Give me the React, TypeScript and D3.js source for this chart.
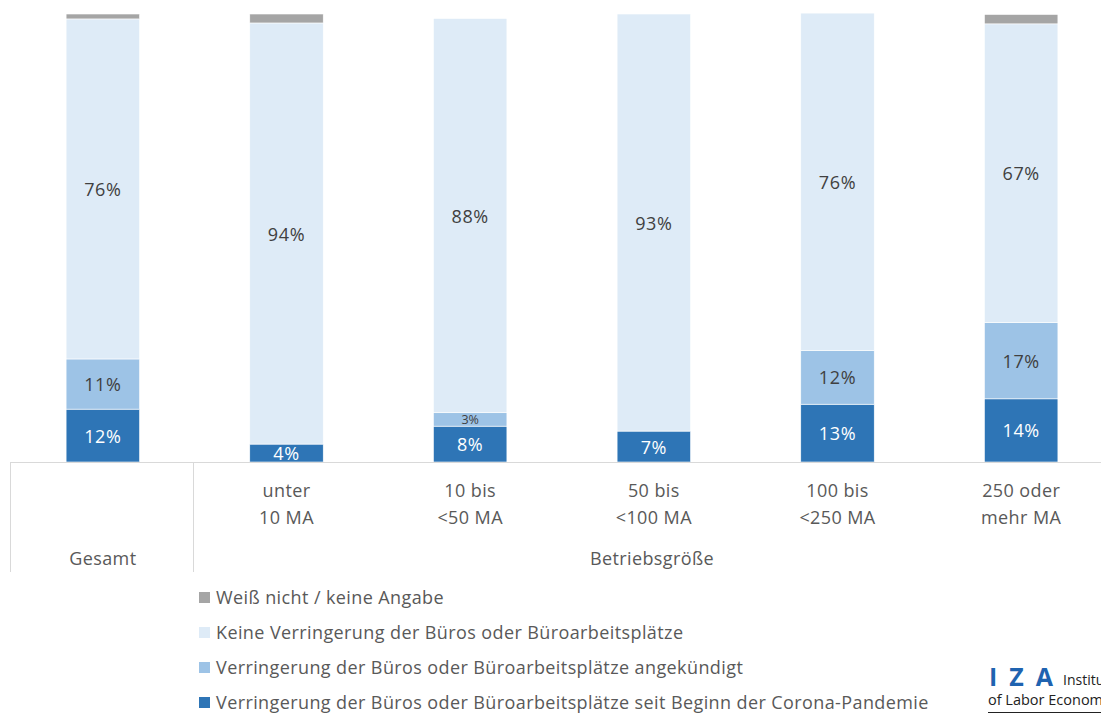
import React, { useEffect, useRef } from 'react';
import * as d3 from 'd3';

// groups on the x axis
const categories = ['Gesamt', 'unter 10 MA', '10 bis <50 MA', '50 bis <100 MA', '100 bis <250 MA', '250 oder mehr MA'];
const tickLines = [[''], ['unter', '10 MA'], ['10 bis', '<50 MA'], ['50 bis', '<100 MA'], ['100 bis', '<250 MA'], ['250 oder', 'mehr MA']];

// shares in percent, stacked from bottom to top
const seitBeginn = [11.8, 4, 8, 6.9, 12.9, 14.1];
const angekuendigt = [11.2, 0, 3, 0, 12, 17];
const keineVerringerung = [75.9, 94, 88, 93.1, 75.3, 66.7];
const weissNicht = [1.1, 2, 0, 0, 0, 2.1];

// printed labels
const seitBeginnLabels = ['12%', '4%', '8%', '7%', '13%', '14%'];
const angekuendigtLabels = ['11%', '', '3%', '', '12%', '17%'];
const keineLabels = ['76%', '94%', '88%', '93%', '76%', '67%'];

const seriesNames = [
  'Verringerung der Büros oder Büroarbeitsplätze seit Beginn der Corona-Pandemie',
  'Verringerung der Büros oder Büroarbeitsplätze angekündigt',
  'Keine Verringerung der Büros oder Büroarbeitsplätze',
  'Weiß nicht / keine Angabe',
];
const seriesColors = ['#2E75B6', '#9DC3E6', '#DEEBF7', '#A5A5A5'];

const FONT = "'Open Sans', 'Noto Sans', sans-serif";

const App = () => {
  const svgRef = useRef<SVGSVGElement>(null);

  useEffect(() => {
    if (!svgRef.current) return;
    const svg = d3.select(svgRef.current);
    svg.selectAll('*').remove();

    const width = 1101;
    const height = 714;
    const baseY = 462;

    const rows = categories.map((c, i) => ({
      cat: c,
      s0: seitBeginn[i],
      s1: angekuendigt[i],
      s2: keineVerringerung[i],
      s3: weissNicht[i],
    }));
    const keys = ['s0', 's1', 's2', 's3'];
    const stack = d3.stack<any>().keys(keys)(rows);

    const x = d3.scaleBand()
      .domain(categories)
      .range([11, 1113])
      .paddingInner(0.6)
      .paddingOuter(0.3);

    const y = d3.scaleLinear().domain([0, 100]).range([baseY, 14]);

    const labelSets = [seitBeginnLabels, angekuendigtLabels, keineLabels];

    stack.forEach((layer, li) => {
      const g = svg.append('g');
      g.selectAll('rect')
        .data(layer)
        .enter()
        .append('rect')
        .attr('x', d => x(d.data.cat)!)
        .attr('width', x.bandwidth())
        .attr('y', d => y(d[1]))
        .attr('height', d => Math.max(0, y(d[0]) - y(d[1])))
        .attr('fill', seriesColors[li])
        .attr('stroke', '#fff')
        .attr('stroke-width', d => (d[1] - d[0] > 0 ? 0.6 : 0));

      if (li < 3) {
        g.selectAll('text')
          .data(layer)
          .enter()
          .append('text')
          .attr('x', d => x(d.data.cat)! + x.bandwidth() / 2)
          .attr('y', (d, i) => (y(d[0]) + y(d[1])) / 2 + (labelSets[li][i] === '3%' ? 5 : 7))
          .attr('text-anchor', 'middle')
          .attr('font-family', FONT)
          .attr('font-size', (d, i) => (labelSets[li][i] === '3%' ? 12.5 : 18))
          .attr('letter-spacing', (d, i) => (labelSets[li][i] === '3%' ? 0 : 0.6))
          .attr('fill', li === 0 ? '#fff' : '#404040')
          .text((d, i) => labelSets[li][i]);
      }
    });

    // axis frame
    svg.append('line')
      .attr('x1', 10).attr('x2', width).attr('y1', baseY + 0.5).attr('y2', baseY + 0.5)
      .attr('stroke', '#D9D9D9').attr('stroke-width', 1);
    [10, 193].forEach(px => {
      svg.append('line')
        .attr('x1', px + 0.5).attr('x2', px + 0.5).attr('y1', baseY).attr('y2', 572)
        .attr('stroke', '#D9D9D9').attr('stroke-width', 1);
    });

    const ticks = svg.append('g')
      .attr('font-family', FONT)
      .attr('font-size', 18)
      .attr('letter-spacing', 0.4)
      .attr('fill', '#595959')
      .attr('text-anchor', 'middle');
    categories.forEach((c, i) => {
      tickLines[i].forEach((t, j) => {
        ticks.append('text')
          .attr('x', x(c)! + x.bandwidth() / 2)
          .attr('y', 497 + j * 27)
          .text(t);
      });
    });
    ticks.append('text').attr('x', x('Gesamt')! + x.bandwidth() / 2).attr('y', 565).text('Gesamt');
    ticks.append('text').attr('x', 652).attr('y', 565).text('Betriebsgröße');

    // legend, top to bottom
    const legendOrder = [3, 2, 1, 0];
    const legend = svg.append('g')
      .attr('font-family', FONT)
      .attr('font-size', 18)
      .attr('letter-spacing', 0.4)
      .attr('fill', '#595959');
    legendOrder.forEach((si, k) => {
      const cy = 598 + k * 35;
      legend.append('rect')
        .attr('x', 199).attr('y', cy - 6).attr('width', 11).attr('height', 11)
        .attr('fill', seriesColors[si]);
      legend.append('text')
        .attr('x', 216).attr('y', cy + 6)
        .text(seriesNames[si]);
    });

    // IZA logo, cut at the right edge as in the source
    const logo = svg.append('g').attr('font-family', FONT);
    logo.append('text')
      .attr('x', 989).attr('y', 686)
      .attr('font-size', 25).attr('font-weight', 700).attr('fill', '#1F63B0')
      .attr('letter-spacing', 12)
      .text('IZA');
    logo.append('text')
      .attr('x', 1063).attr('y', 685)
      .attr('font-size', 14).attr('fill', '#222')
      .text('Institute');
    logo.append('text')
      .attr('x', 988).attr('y', 705)
      .attr('font-size', 14.5).attr('fill', '#222')
      .text('of Labor Economics');
    logo.append('line')
      .attr('x1', 988).attr('x2', width).attr('y1', 712.5).attr('y2', 712.5)
      .attr('stroke', '#222').attr('stroke-width', 1);

    svg.attr('width', width).attr('height', height);
  }, []);

  return (
    <svg
      ref={svgRef}
      style={{ position: 'absolute', left: 0, top: 0, background: '#fff' }}
    ></svg>
  );
};

export default App;
